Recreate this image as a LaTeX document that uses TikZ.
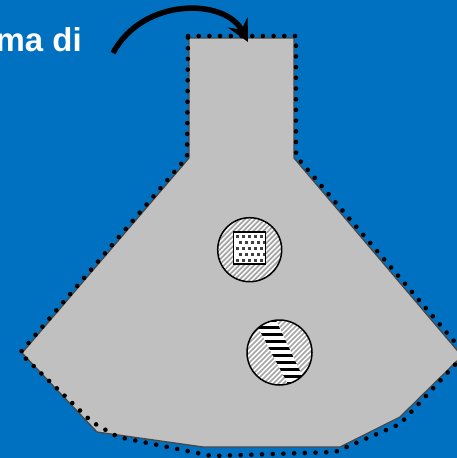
\documentclass[tikz,border=0pt]{standalone}
\usepackage{fontspec}
\setmainfont{Liberation Sans}
\usetikzlibrary{arrows.meta}
\definecolor{bg}{RGB}{0,112,192}
\definecolor{shapegray}{RGB}{192,192,192}
\definecolor{hatchgray}{RGB}{165,165,165}
\tikzset{
  flask/.style={fill=shapegray, draw=black!72, line width=1.3pt, line join=miter},
  dotline/.style={line width=4.6pt, line cap=round, dash pattern=on 0pt off 10.7pt},
  hatchline/.style={hatchgray, line width=1.7pt},
  ring/.style={draw=black, line width=1.5pt},
  bigarrow/.style={line width=5.5pt, -{Stealth[length=22pt,width=22pt,inset=8pt]}}
}
\begin{document}
\begin{tikzpicture}[x=1pt,y=-1pt]
\fill[bg] (0,0) rectangle (457,458);
\useasboundingbox (0,0) rectangle (457,458);
% flask shape
\draw[flask] (189,38) -- (294,38) -- (294,158) -- (462,356) -- (400,417) -- (340,447) -- (203,447) -- (97,432) -- (22,353) -- (189,158) -- cycle;
% dotted outline
\draw[dotline] (188,36) -- (296,36) -- (296,156) -- (465,354) -- (400,424) -- (335,452) -- (212,456) -- (118,437) -- (92,422) -- (20,353) -- (187,157) -- cycle;
% circle 1
\def\cx{249.7}\def\cy{249.7}
\begin{scope}
\clip (\cx,\cy) circle (32);
\fill[white] (\cx,\cy) circle (32);
\foreach \k in {-18,...,18} \draw[hatchline] ({\cx+\k*5-40},{\cy+40}) -- ({\cx+\k*5+40},{\cy-40});
\end{scope}
\node[circle, ring, minimum size=64pt, inner sep=0pt] (c1) at (\cx,\cy) {};
\fill[white] (233,232) rectangle (266,264);
\foreach \j in {0,...,4} \foreach \i in {0,...,4} {
  \pgfmathsetmacro\xx{235.5+\i*6.2+mod(\j,2)*3.1}
  \pgfmathsetmacro\yy{235+\j*6}
  \fill[black!75] (\xx,\yy) rectangle ++(3,3);
}
\node[draw=black, line width=1.6pt, minimum size=32pt, inner sep=0pt] (sq) at (249.5,248) {};
% circle 2
\def\dx{279.5}\def\dy{352.5}
\begin{scope}
\clip (\dx,\dy) circle (32.5);
\fill[white] (\dx,\dy) circle (32.5);
\foreach \k in {-18,...,18} \draw[hatchline] ({\dx+\k*5-40},{\dy+40}) -- ({\dx+\k*5+40},{\dy-40});
\clip (250,312) -- (272,312) -- (309,390) -- (291,390) -- cycle;
\fill[white] (240,310) rectangle (320,395);
\foreach \s in {0,...,10} \fill[black] (240,{319+\s*7}) rectangle (320,{322+\s*7});
\end{scope}
\node[circle, ring, minimum size=65pt, inner sep=0pt] (c2) at (\dx,\dy) {};
% text and arrow
\node[anchor=base east, text=white, inner sep=0pt, font=\bfseries\fontsize{33}{38}\selectfont] (lbl) at (82,51) {ma di};
\coordinate (as) at (113,53);
\coordinate (ae) at (248,42);
\draw[bigarrow] (as) .. controls (143,-3) and (225,-2) .. (ae);
\end{tikzpicture}
\end{document}
